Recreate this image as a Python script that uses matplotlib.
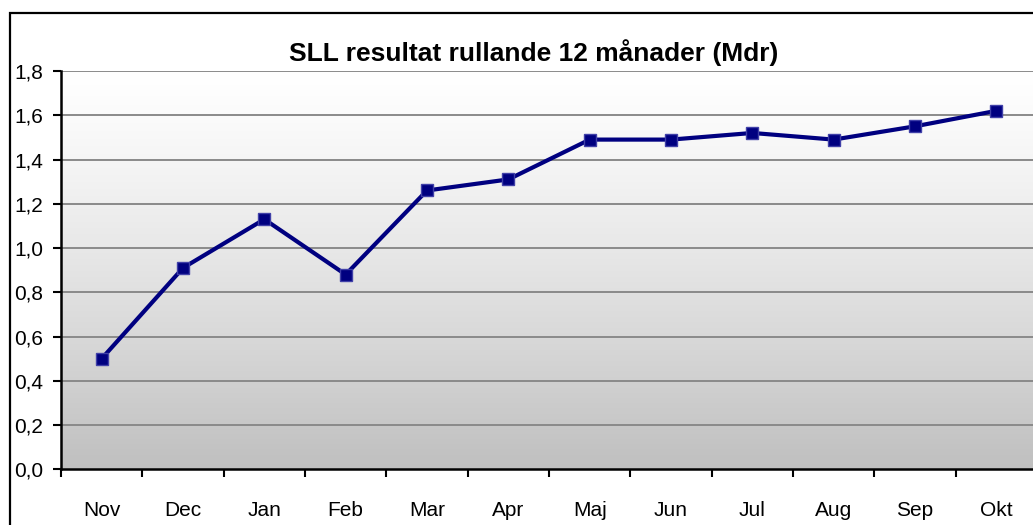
import numpy as np
import matplotlib
matplotlib.use("Agg")
import matplotlib.pyplot as plt
from matplotlib.patches import Rectangle
from matplotlib.ticker import FixedLocator, FuncFormatter

months = ["Nov", "Dec", "Jan", "Feb", "Mar", "Apr", "Maj", "Jun", "Jul", "Aug", "Sep", "Okt"]
result = [0.50, 0.91, 1.13, 0.88, 1.26, 1.31, 1.49, 1.49, 1.52, 1.49, 1.55, 1.62]
y_ticks = [0.0, 0.2, 0.4, 0.6, 0.8, 1.0, 1.2, 1.4, 1.6, 1.8]
title = "SLL resultat rullande 12 månader (Mdr)"

plt.rcParams['font.family'] = ['Liberation Sans', 'DejaVu Sans']

W, H = 1033, 525
fig = plt.figure(figsize=(W / 100, H / 100), dpi=100)

# outer chart frame (cut off at right and bottom like the screenshot)
fig.patches.append(Rectangle((10 / W, -0.05), 1.1, 1 - 13 / H + 0.05, transform=fig.transFigure,
                             fill=False, edgecolor='black', linewidth=1.6, zorder=0))

ax = fig.add_axes([61 / W, 1 - 469.3 / H, 976 / W, (469.3 - 71) / H])
x = np.arange(len(months))

# vertical gradient background, white at top to gray at bottom
t = np.linspace(0, 1, 256).reshape(-1, 1)
shade = 1.0 - (1.0 - 0.75) * t ** 1.25
grad = np.dstack([shade, shade, shade])
ax.imshow(grad, extent=[-0.5, len(months) - 0.5, 0, 1.8], aspect='auto', zorder=0, origin='upper')
ax.set_xlim(-0.5, len(months) - 0.5)
ax.set_ylim(0, 1.8)

for yv in y_ticks[1:]:
    ax.axhline(yv, color='#8a8a8a', linewidth=1.4, zorder=1)

ax.plot(x, result, color='#000080', linewidth=3.0, marker='s', markersize=8.5,
        markerfacecolor='#000080', markeredgecolor='#4040a8', markeredgewidth=1.0, zorder=3)

ax.set_yticks(y_ticks)
ax.yaxis.set_major_formatter(FuncFormatter(lambda v, p: f"{v:.1f}".replace(".", ",")))
ax.tick_params(axis='y', direction='out', length=6, width=1.5, pad=7, labelsize=15)

ax.xaxis.set_major_locator(FixedLocator(x))
ax.set_xticklabels(months)
ax.xaxis.set_minor_locator(FixedLocator(np.arange(-0.5, len(months) + 0.5, 1)))
ax.tick_params(axis='x', which='major', length=0, pad=23, labelsize=15)
ax.tick_params(axis='x', which='minor', direction='out', length=6, width=1.5)

for s in ['top', 'right']:
    ax.spines[s].set_visible(False)
ax.spines['left'].set_linewidth(1.8)
ax.spines['bottom'].set_linewidth(1.8)

fig.text(534 / W, 1 - 61 / H, title, ha='center', va='baseline', fontsize=19, fontweight='bold')

fig.savefig("out.png", dpi=100)
